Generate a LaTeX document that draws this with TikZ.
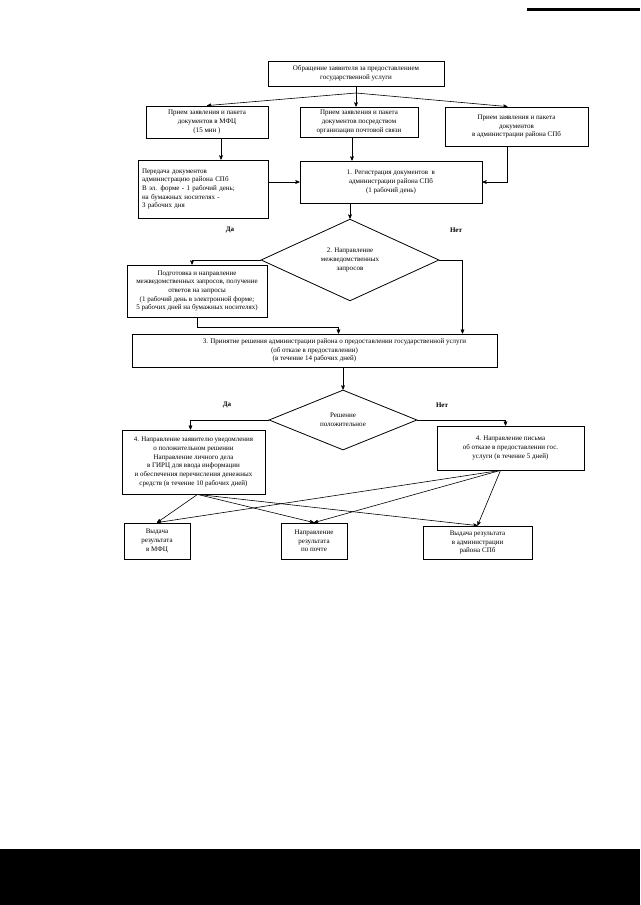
\documentclass[tikz,border=0pt]{standalone}
\usepackage{fontspec}
\setmainfont{Liberation Serif}
\usetikzlibrary{arrows, shapes.geometric, calc}
\tikzset{>=stealth', font=\fontsize{7}{8.7}\selectfont}
\tikzset{box/.style={shape=rectangle, draw, line width=.8pt, align=center,
    inner sep=2pt},
  cond/.style={shape=diamond, draw, line width=.8pt, align=center,
    inner sep=0pt},
  wh/.style 2 args={minimum width=#1, minimum height=#2},
  ans/.style={font=\fontsize{7}{8}\selectfont\bfseries}}

\begin{document}
\begin{tikzpicture}[x=1pt, y=-1pt, line width=.6pt]
  \useasboundingbox (0,0) rectangle (640,905);
  \fill (527,8) rectangle (640,11);
  \fill (0,849) rectangle (640,905);
  % boxes
  \node[box, wh={176}{25}] (appeal) at (356,73.5)
    {Обращение заявителя за предоставлением\\ государственной услуги};
  \node[box, wh={122}{32}] (mfc) at (207,122)
    {Прием заявления и пакета\\ документов в МФЦ\\ (15 мин )};
  \node[box, wh={118}{30}] (post) at (359,122)
    {Прием заявления и пакета\\ документов посредством\\ организации почтовой связи};
  \node[box, wh={143}{39}] (admin) at (516.5,126.5)
    {Прием заявления и пакета\\ документов\\ в администрации района СПб};
  \node[box, wh={130}{58}, text width=122, align=left] (transfer) at (203,189)
    {Передача документов\\ администрацию района СПб\\ В эл. форме - 1 рабочий день;\\
     на бумажных носителях -\\ 3 рабочих дня};
  \node[box, wh={182}{42}] (reg) at (391,182)
    {1. Регистрация документов \ в\\ администрации района СПб\\ (1 рабочий день)};
  \node[cond, wh={178}{62}] (dia1) at (350,260)
    {2. Направление\\ межведомственных\\ запросов};
  \node[ans] (yes1) at (230,230) {Да};
  \node[ans] (no1) at (456,230) {Нет};
  \node[box, wh={140}{52}] (req) at (197,291)
    {Подготовка и направление\\ межведомственных запросов, получение\\ ответов на запросы\\
     (1 рабочий день в электронной форме;\\ 5 рабочих дней на бумажных носителях)};
  \node[box, wh={365}{33}] (decision) at (314.5,350.5)
    {\hspace{40pt}3. Принятие решения администрации района о предоставлении государственной услуги\\
     (об отказе в предоставлении)\\ (в течение 14 рабочих дней)};
  \node[cond, wh={148}{60}] (dia2) at (343,420)
    {Решение\\ положительное};
  \node[ans] (yes2) at (227,405) {Да};
  \node[ans] (no2) at (442,405) {Нет};
  \node[box, wh={143}{64}] (yes) at (193.5,462)
    {4. Направление заявителю уведомления\\ о положительном решении\\ Направление личного дела\\
     в ГИРЦ для ввода информации\\ и обеспечения перечисления денежных\\
     средств (в течение 10 рабочих дней)};
  \node[box, wh={147}{44}] (no) at (510.5,448)
    {4. Направление письма\\ об отказе в предоставлении гос.\\ услуги (в течение 5 дней)};
  \node[box, wh={66}{36}] (resmfc) at (157,541)
    {Выдача\\ результата\\ в МФЦ};
  \node[box, wh={66}{36}] (respost) at (314,541)
    {Направление\\ результата\\ по почте};
  \node[box, wh={109}{33}] (resadm) at (477.5,542.5)
    {Выдача результата\\ в администрации\\ района СПб};
  % connectors
  \coordinate (split) at (356,93);
  \draw[->] (appeal) -- (appeal |- post.north);
  \draw[->] (split) -- (mfc.north);
  \draw[->] (split) -- ([xshift=-9]admin.north);
  \draw[->] ([xshift=14]mfc.south) -- ([xshift=14]mfc.south |- transfer.north);
  \draw[->] (transfer.east |- reg) -- (reg.west);
  \draw[->] ([xshift=-7]post.south) -- ([xshift=-7]post.south |- reg.north);
  \draw[->] ([xshift=-9]admin.south) |- (reg.east);
  \draw[->] (dia1.north |- reg.south) -- (dia1.north);
  \draw[->] (dia1.west) -| ([xshift=-5]req.north);
  \draw[->] (dia1.east) -| ([xshift=148]decision.north);
  \draw[->] (req.south) -- ++(0,10) -| ([xshift=24]decision.north);
  \draw[->] (dia2.north |- decision.south) -- (dia2.north);
  \draw[->] (dia2.west) -| ([xshift=-3]yes.north);
  \draw[->] (dia2.east) -| ([xshift=-5]no.north);
  \coordinate (yesout) at ([xshift=4]yes.south);
  \coordinate (noout) at ([xshift=-10]no.south);
  \foreach \r in {resmfc, respost, resadm} {
    \draw[->] (yesout) -- (\r.north);
    \draw[->] (noout) -- (\r.north);
  }
\end{tikzpicture}
\end{document}
